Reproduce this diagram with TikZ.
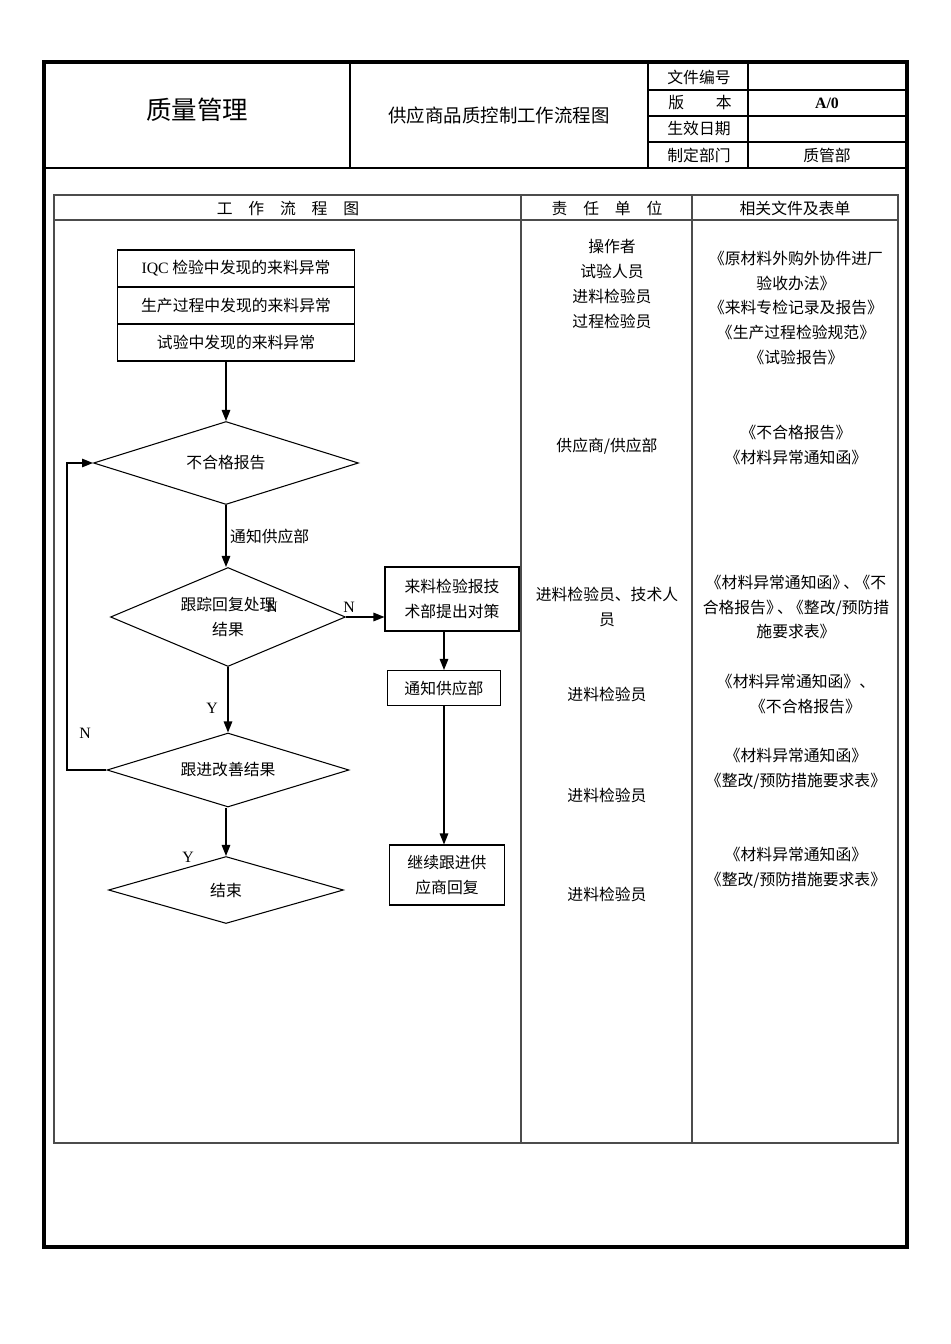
\documentclass[tikz,border=0pt]{standalone}
\usepackage{fontspec}
\setmainfont{Liberation Serif}
\newfontfamily\cjk{Noto Sans CJK SC}
\usetikzlibrary{shapes.geometric}
\usetikzlibrary{arrows.meta}

\begin{document}
\begin{tikzpicture}[x=0.02cm, y=-0.02cm,
  every node/.style={font=\cjk\fontsize{9}{14.2}\selectfont, align=center},
  cella/.style={draw, line width=0.6pt, minimum width=4.74cm, minimum height=0.74cm, inner sep=0pt},
  flowbox/.style={draw, line width=0.6pt, inner sep=0pt},
  choice/.style={diamond, draw, line width=0.6pt, aspect=3, inner sep=0pt},
  link/.style={line width=0.8pt, -{Triangle[length=2.2mm,width=1.7mm]}},
  tableline/.style={gray!60!black, line width=0.7pt}]
  \useasboundingbox (0,0) rectangle (950,1344);
  % intestazione
  \draw[line width=2pt] (44,62) rectangle (907,1247);
  \draw[line width=0.6pt] (44,168) -- (907,168);
  \draw[line width=0.6pt] (350,62) -- (350,168);
  \draw[line width=0.6pt] (648,62) -- (648,168);
  \draw[line width=0.6pt] (748,62) -- (748,168);
  \foreach \y in {90,116,142} \draw[line width=0.6pt] (648,\y) -- (907,\y);
  \node (titolo) at (197,110) {\fontsize{14.5}{17}\selectfont 质量管理};
  \node (nome) at (499,115) {\fontsize{10.5}{13}\selectfont 供应商品质控制工作流程图};
  \node (doc) at (699,77) {文件编号};
  \node (ver) at (700,103) {版\hspace{2em}本};
  \node (data) at (699,129) {生效日期};
  \node (rep) at (699,155) {制定部门};
  \node (verv) at (827,103) {\rmfamily\bfseries A/0};
  \node (repv) at (827,155) {质管部};

  % tabella interna
  \draw[tableline] (54,195) rectangle (898,1143);
  \draw[tableline] (54,220) -- (898,220);
  \draw[tableline] (521,195) -- (521,1143);
  \draw[tableline] (692,195) -- (692,1143);
  \node (col1) at (288,208) {工\quad 作\quad 流\quad 程\quad 图};
  \node (col2) at (607,208) {责\quad 任\quad 单\quad 位};
  \node (col3) at (795,208) {相关文件及表单};

  % diagramma di flusso
  \node[cella] (iqc) at (236,268.5) {{\rmfamily IQC} 检验中发现的来料异常};
  \node[cella] (prod) at (236,305.5) {生产过程中发现的来料异常};
  \node[cella] (prova) at (236,342.5) {试验中发现的来料异常};
  \node[choice, minimum width=5.3cm, minimum height=1.66cm] (nonconf) at (226,463) {不合格报告};
  \node[choice, minimum width=4.7cm, minimum height=1.98cm] (track) at (228,617) {跟踪回复处理\\结果};
  \node[choice, minimum width=4.84cm, minimum height=1.48cm] (improve) at (228,770) {跟进改善结果};
  \node[choice, minimum width=4.7cm, minimum height=1.34cm] (fine) at (226,890) {结束};
  \node[flowbox, minimum width=2.68cm, minimum height=1.28cm] (tech) at (452,599) {来料检验报技\\术部提出对策};
  \node[flowbox, minimum width=2.26cm, minimum height=0.7cm] (notify) at (444,688) {通知供应部};
  \node[flowbox, minimum width=2.3cm, minimum height=1.2cm] (follow) at (447,875) {继续跟进供\\应商回复};

  \draw[link] (nonconf.north |- prova.south) -- (nonconf.north);
  \draw[link] (nonconf.south) -- (nonconf.south |- track.north) node[midway, right, inner sep=2pt] (avviso) {通知供应部};
  \draw[link] (track.south) -- (improve.north);
  \draw[link] (fine.north |- improve.south) -- (fine.north);
  \draw[link] (track.east) -- (track.east -| tech.west);
  \draw[link] (tech.south -| notify.north) -- (notify.north);
  \draw[link] (notify.south) -- (notify.south |- follow.north);
  \coordinate (ritorno) at (67,770);
  \draw[link] (improve.west) -- (ritorno) |- (nonconf.west);
  \node (n1) at (349,607) {\rmfamily N};
  \node (n2) at (272,607) {\rmfamily N};
  \node (y1) at (212,708) {\rmfamily Y};
  \node (n3) at (85,733) {\rmfamily N};
  \node (y2) at (188,857) {\rmfamily Y};

  % responsabili
  \node (r1) at (612,284) {操作者\\试验人员\\进料检验员\\过程检验员};
  \node (r2) at (607,446) {供应商/供应部};
  \node (r3) at (607,607) {进料检验员、技术人\\员};
  \node (r4) at (607,694) {进料检验员};
  \node (r5) at (607,795) {进料检验员};
  \node (r6) at (607,894) {进料检验员};

  % documenti
  \node (d1) at (796,308) {《原材料外购外协件进厂\\验收办法》\\《来料专检记录及报告》\\《生产过程检验规范》\\《试验报告》};
  \node (d2) at (796,445) {《不合格报告》\\《材料异常通知函》};
  \node (d3) at (796,607) {《材料异常通知函》\kern-0.3em、\kern-0.3em《不\\合格报告》\kern-0.3em、\kern-0.3em《整改/预防措\\施要求表》};
  \node (d4) at (796,694) {《材料异常通知函》、\\\hspace{1.2em}《不合格报告》};
  \node (d5) at (796,769) {《材料异常通知函》\\《整改/预防措施要求表》};
  \node (d6) at (796,868) {《材料异常通知函》\\《整改/预防措施要求表》};
\end{tikzpicture}
\end{document}
